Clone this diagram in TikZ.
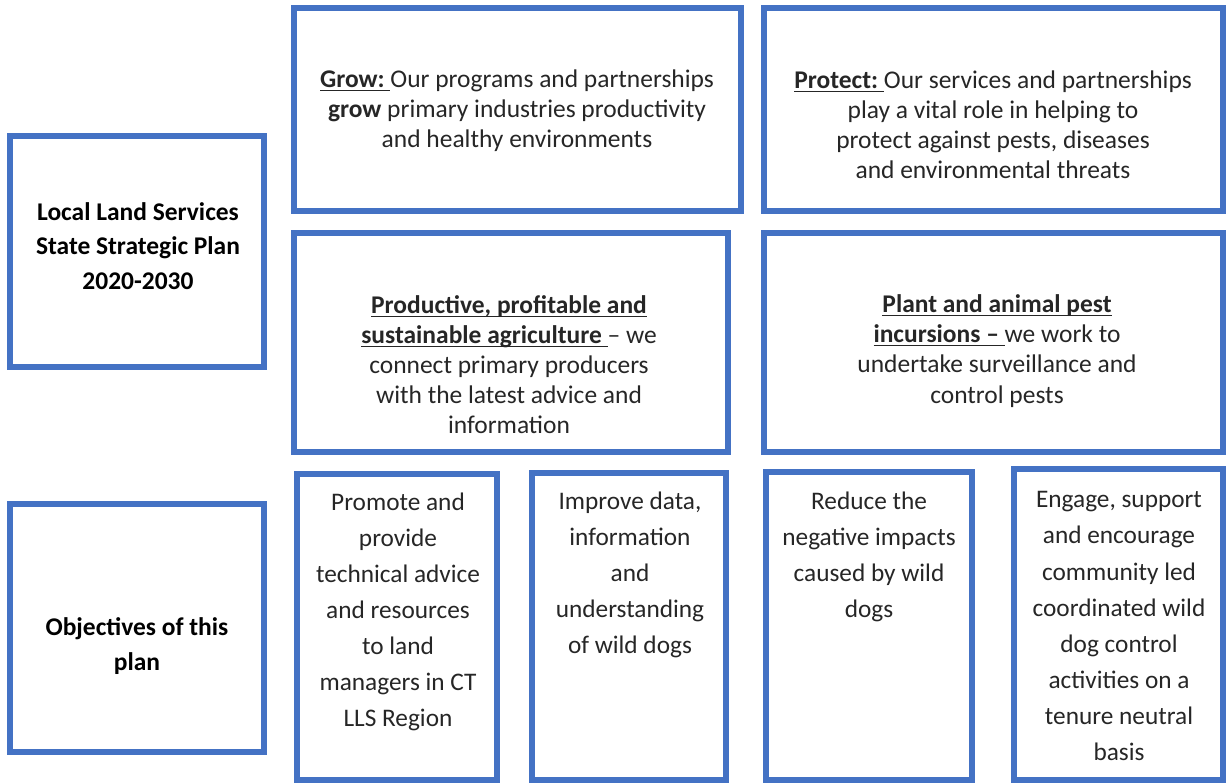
\documentclass[tikz,border=0pt]{standalone}
\usepackage{fontspec}
\setmainfont{Carlito}
\definecolor{llsblue}{HTML}{4472C4}
% underline that sits on the baseline instead of under the descenders
\newcommand{\uword}[1]{\underline{\smash{#1}}}

\begin{document}
\begin{tikzpicture}[x=0.02cm, y=-0.02cm,
	panel/.style={draw=llsblue, line width=0.12cm},
	body/.style={align=center, text=black!85, inner sep=0pt},
	toptext/.style={body, font=\fontsize{14.5}{17.1}\selectfont},
	objtext/.style={body, font=\fontsize{14.4}{20.5}\selectfont},
	sidetext/.style={body, text=black, font=\bfseries\fontsize{14.5}{19.5}\selectfont}]

	\useasboundingbox (0,0) rectangle (1226,783);

	% all outlines, left column first, then the two upper rows and the objectives
	\foreach \xa/\ya/\xb/\yb in {10/136/264/367, 10/504/264/752,
		294/8/741/211, 764/8/1223/211, 294/233/728/452, 764/233/1223/452,
		297/474/497/780, 532/473/726/780, 766/472/972/780, 1014/469/1223/780}{
		\draw[panel] (\xa,\ya) rectangle (\xb,\yb);
	}

	\node[sidetext] (lls) at (138,246) {Local Land Services\\State Strategic Plan\\2020-2030};
	\node[sidetext] (objectives) at (137,646) {Objectives of this\\plan};

	\node[toptext] (grow) at (517,111)
		{\uword{\textbf{Grow:}\ }Our programs and partnerships\\
		 \textbf{grow} primary industries productivity\\and healthy environments};
	\node[toptext] (protect) at (993,125)
		{\uword{\textbf{Protect:}\ }Our services and partnerships\\
		 play a vital role in helping to\\protect against pests, diseases\\and environmental threats};

	\node[toptext] (agriculture) at (509,374)
		{\uword{\textbf{Productive, profitable and}}\\
		 \uword{\textbf{sustainable agriculture}\ }-- we\\
		 connect primary producers\\with the latest advice and\\information};
	\node[toptext] (incursions) at (997,360)
		{\uword{\textbf{Plant and animal pest}}\\
		 \uword{\textbf{incursions --}\ }we work to\\
		 undertake surveillance and\\control pests};

	% objectives of the plan
	\node[objtext] (promote) at (398,612)
		{Promote and\\provide\\technical advice\\and resources\\to land\\managers in CT\\LLS Region};
	\node[objtext] (improve) at (630,575)
		{Improve data,\\information\\and\\understanding\\of wild dogs};
	\node[objtext] (reduce) at (869,557)
		{Reduce the\\negative impacts\\caused by wild\\dogs};
	\node[objtext] (engage) at (1119,626)
		{Engage, support\\and encourage\\community led\\coordinated wild\\dog control\\activities on a\\tenure neutral\\basis};

\end{tikzpicture}
\end{document}
